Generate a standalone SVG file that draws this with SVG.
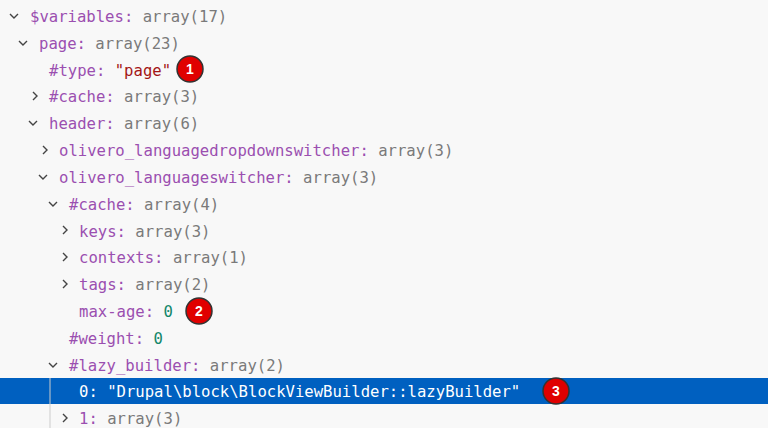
<svg xmlns="http://www.w3.org/2000/svg" width="768" height="428" viewBox="0 0 768 428">
<style>
text{font-family:"DejaVu Sans Mono","Liberation Mono",monospace;font-size:15.6px}
.k{fill:#9b4fb0}.v{fill:#7a7a7a}.s{fill:#a31515}.n{fill:#12866a}
.ch{fill:none;stroke:#444;stroke-width:1.4}
.b circle{fill:#e00000;stroke:#333;stroke-width:1.5}
.b text{fill:#fff;font-family:"Liberation Sans",sans-serif;font-weight:bold;font-size:14px;text-anchor:middle}
</style>
<rect width="768" height="428" fill="#f8f8f8"/>
<rect x="0" y="378" width="768" height="26" fill="#0060c0"/>
<line x1="50" y1="378" x2="50" y2="428" stroke="#ccc"/>
<g id="rows">
<path class="ch" d="M10 14l4 4 4-4"/><text x="30" y="22"><tspan class="k">$variables:</tspan><tspan class="v"> array(17)</tspan></text>
<path class="ch" d="M19 41l4 4 4-4"/><text x="39" y="49"><tspan class="k">page:</tspan><tspan class="v"> array(23)</tspan></text>
<text x="49" y="76"><tspan class="k">#type:</tspan> <tspan class="s">"page"</tspan></text>
<path class="ch" d="M33 92l4 4-4 4"/><text x="49" y="102"><tspan class="k">#cache:</tspan><tspan class="v"> array(3)</tspan></text>
<path class="ch" d="M29 121l4 4 4-4"/><text x="49" y="129"><tspan class="k">header:</tspan><tspan class="v"> array(6)</tspan></text>
<path class="ch" d="M43 146l4 4-4 4"/><text x="59" y="156"><tspan class="k">olivero_languagedropdownswitcher:</tspan><tspan class="v"> array(3)</tspan></text>
<path class="ch" d="M39 175l4 4 4-4"/><text x="59" y="183"><tspan class="k">olivero_languageswitcher:</tspan><tspan class="v"> array(3)</tspan></text>
<path class="ch" d="M49 202l4 4 4-4"/><text x="69" y="210"><tspan class="k">#cache:</tspan><tspan class="v"> array(4)</tspan></text>
<path class="ch" d="M63 226l4 4-4 4"/><text x="79" y="237"><tspan class="k">keys:</tspan><tspan class="v"> array(3)</tspan></text>
<path class="ch" d="M63 253l4 4-4 4"/><text x="79" y="263"><tspan class="k">contexts:</tspan><tspan class="v"> array(1)</tspan></text>
<path class="ch" d="M63 280l4 4-4 4"/><text x="79" y="290"><tspan class="k">tags:</tspan><tspan class="v"> array(2)</tspan></text>
<text x="79" y="317"><tspan class="k">max-age:</tspan> <tspan class="n">0</tspan></text>
<text x="69" y="344"><tspan class="k">#weight:</tspan> <tspan class="n">0</tspan></text>
<path class="ch" d="M49 363l4 4 4-4"/><text x="69" y="371"><tspan class="k">#lazy_builder:</tspan><tspan class="v"> array(2)</tspan></text>
<text x="79" y="397" fill="#fff">0: "Drupal\block\BlockViewBuilder::lazyBuilder"</text>
<path class="ch" d="M63 414l4 4-4 4"/><text x="79" y="424"><tspan class="k">1:</tspan><tspan class="v"> array(3)</tspan></text>
</g>
<g id="badge1" class="b"><circle cx="190" cy="69" r="13"/><text x="190" y="74">1</text></g>
<g id="badge2" class="b"><circle cx="199" cy="311" r="13"/><text x="199" y="316">2</text></g>
<g id="badge3" class="b"><circle cx="556" cy="391" r="13"/><text x="556" y="396">3</text></g>
</svg>
